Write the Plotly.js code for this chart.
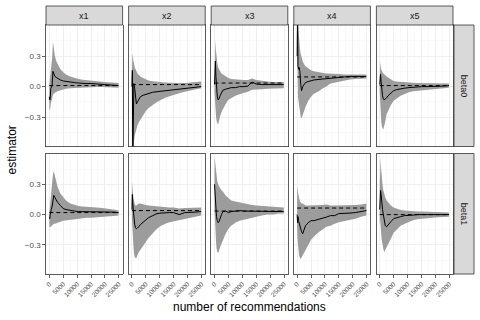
<!DOCTYPE html>
<html>
<head>
<meta charset="utf-8">
<script src="https://cdn.plot.ly/plotly-3.0.1.min.js"></script>
<style>
  html, body { margin: 0; padding: 0; background: #fff; }
  #chart { width: 480px; height: 320px; }
</style>
</head>
<body>
<div id="chart"></div>
<script>
// Running estimates vs number of recommendations, facet grid (param x covariate)

const recs = [0, 150, 300, 500, 700, 1000, 1300, 1600, 2000, 2500, 3000, 4000, 5000,
              6000, 7500, 9000, 10500, 12000, 13500, 15000, 17000, 19000, 21000, 23000, 24900];

const covariates = ['x1', 'x2', 'x3', 'x4', 'x5'];
const params = ['beta0', 'beta1'];

const xTicks = [0, 5000, 10000, 15000, 20000, 25000];
const xTickText = ['0', '5000', '10000', '15000', '20000', '25000'];
const xMinor = [2500, 7500, 12500, 17500, 22500];
const yTicks = [-0.3, 0, 0.3];
const yTickText = ['\u22120.3', '0.0', '0.3'];
const yMinor = [-0.45, -0.15, 0.15, 0.45];

// true values (dashed lines)
const truthBeta0 = [0.01, 0.02, 0.035, 0.095, 0.01];
const truthBeta1 = [0.02, 0.04, 0.035, 0.065, 0.0];

// beta0
const estB0x1 = [-0.10, -0.13, -0.12, -0.02, 0.00, 0.01, 0.15, 0.12, 0.10, 0.09, 0.08, 0.065, 0.055, 0.05, 0.045, 0.04, 0.035, 0.03, 0.03, 0.03, 0.025, 0.02, 0.02, 0.015, 0.01];
const hiB0x1  = [0.02, 0.06, 0.08, 0.12, 0.18, 0.28, 0.44, 0.36, 0.30, 0.25, 0.22, 0.17, 0.14, 0.12, 0.10, 0.085, 0.075, 0.068, 0.062, 0.057, 0.052, 0.047, 0.043, 0.04, 0.035];
const loB0x1  = [-0.20, -0.24, -0.22, -0.17, -0.14, -0.12, -0.08, -0.07, -0.06, -0.05, -0.045, -0.035, -0.025, -0.02, -0.015, -0.012, -0.01, -0.008, -0.006, -0.005, -0.004, -0.003, -0.004, -0.006, -0.01];

const estB0x2 = [0.00, 0.16, -0.75, 0.02, 0.03, -0.02, -0.12, -0.17, -0.15, -0.12, -0.10, -0.085, -0.075, -0.065, -0.055, -0.05, -0.045, -0.04, -0.04, -0.035, -0.03, -0.02, -0.015, -0.005, 0.0];
const hiB0x2  = [0.10, 0.33, 0.30, 0.26, 0.22, 0.19, 0.17, 0.15, 0.13, 0.115, 0.10, 0.085, 0.07, 0.06, 0.052, 0.046, 0.042, 0.04, 0.038, 0.036, 0.035, 0.036, 0.04, 0.045, 0.05];
const loB0x2  = [-0.10, -0.30, -0.95, -0.70, -0.55, -0.48, -0.44, -0.42, -0.38, -0.35, -0.32, -0.28, -0.24, -0.21, -0.18, -0.15, -0.13, -0.11, -0.095, -0.08, -0.065, -0.05, -0.035, -0.025, -0.015];

const estB0x3 = [0.02, 0.10, 0.25, 0.10, -0.05, -0.10, -0.13, -0.12, -0.09, -0.06, -0.035, -0.025, -0.02, -0.01, -0.01, 0.0, 0.0, 0.005, 0.045, 0.025, 0.02, 0.02, 0.015, 0.015, 0.02];
const hiB0x3  = [0.05, 0.30, 0.46, 0.36, 0.28, 0.23, 0.19, 0.17, 0.15, 0.13, 0.12, 0.10, 0.085, 0.075, 0.07, 0.065, 0.065, 0.065, 0.08, 0.065, 0.055, 0.05, 0.045, 0.045, 0.045];
const loB0x3  = [-0.05, -0.15, -0.20, -0.28, -0.33, -0.36, -0.37, -0.34, -0.29, -0.25, -0.22, -0.17, -0.13, -0.11, -0.09, -0.075, -0.06, -0.05, -0.03, -0.03, -0.025, -0.02, -0.02, -0.015, -0.015];

const estB0x4 = [0.30, 0.75, 0.20, 0.17, 0.19, 0.15, 0.02, -0.04, 0.0, 0.02, 0.04, 0.05, 0.06, 0.065, 0.07, 0.075, 0.08, 0.085, 0.09, 0.09, 0.095, 0.1, 0.1, 0.1, 0.1];
const hiB0x4  = [0.70, 0.90, 0.70, 0.55, 0.45, 0.38, 0.32, 0.28, 0.25, 0.22, 0.20, 0.18, 0.16, 0.15, 0.14, 0.135, 0.13, 0.13, 0.125, 0.125, 0.12, 0.12, 0.12, 0.12, 0.12];
const loB0x4  = [0.0, 0.40, -0.10, -0.15, -0.20, -0.25, -0.30, -0.31, -0.28, -0.24, -0.20, -0.14, -0.10, -0.07, -0.05, -0.02, 0.0, 0.03, 0.04, 0.05, 0.06, 0.07, 0.075, 0.08, 0.08];

const estB0x5 = [0.02, 0.06, 0.12, 0.05, -0.05, -0.09, -0.12, -0.13, -0.12, -0.11, -0.09, -0.06, -0.04, -0.03, -0.02, -0.015, -0.01, -0.005, 0.0, 0.0, 0.0, 0.0, 0.005, 0.005, 0.01];
const hiB0x5  = [0.08, 0.25, 0.20, 0.17, 0.15, 0.14, 0.13, 0.12, 0.11, 0.10, 0.09, 0.07, 0.055, 0.05, 0.045, 0.04, 0.04, 0.037, 0.035, 0.035, 0.033, 0.032, 0.031, 0.03, 0.03];
const loB0x5  = [-0.05, -0.15, -0.25, -0.33, -0.38, -0.41, -0.42, -0.40, -0.34, -0.27, -0.24, -0.18, -0.14, -0.12, -0.09, -0.07, -0.055, -0.045, -0.04, -0.035, -0.03, -0.025, -0.02, -0.015, -0.01];

// beta1
const estB1x1 = [-0.03, -0.04, 0.00, 0.04, 0.05, 0.08, 0.16, 0.19, 0.17, 0.14, 0.12, 0.09, 0.06, 0.05, 0.04, 0.035, 0.03, 0.03, 0.03, 0.03, 0.03, 0.03, 0.025, 0.025, 0.02];
const hiB1x1  = [0.02, 0.06, 0.12, 0.20, 0.26, 0.33, 0.40, 0.43, 0.38, 0.32, 0.27, 0.21, 0.17, 0.14, 0.11, 0.095, 0.085, 0.08, 0.075, 0.07, 0.07, 0.065, 0.06, 0.05, 0.04];
const loB1x1  = [-0.10, -0.13, -0.13, -0.12, -0.12, -0.11, -0.10, -0.09, -0.09, -0.09, -0.08, -0.07, -0.06, -0.05, -0.045, -0.04, -0.04, -0.035, -0.03, -0.03, -0.03, -0.025, -0.02, -0.015, -0.01];

const estB1x2 = [0.05, 0.20, 0.12, 0.04, -0.05, -0.10, -0.13, -0.14, -0.13, -0.12, -0.10, -0.075, -0.05, -0.03, -0.01, 0.01, 0.015, 0.02, 0.02, 0.02, 0.0, 0.02, 0.02, 0.025, 0.03];
const hiB1x2  = [0.15, 0.33, 0.25, 0.17, 0.12, 0.10, 0.09, 0.09, 0.10, 0.11, 0.11, 0.10, 0.095, 0.09, 0.085, 0.08, 0.075, 0.07, 0.07, 0.07, 0.06, 0.065, 0.065, 0.07, 0.07];
const loB1x2  = [-0.05, -0.10, -0.20, -0.30, -0.38, -0.42, -0.43, -0.43, -0.40, -0.37, -0.34, -0.31, -0.27, -0.23, -0.18, -0.14, -0.11, -0.09, -0.075, -0.06, -0.05, -0.04, -0.03, -0.02, -0.01];

const estB1x3 = [0.30, 0.22, 0.14, 0.05, -0.02, -0.06, -0.08, -0.07, -0.03, 0.0, 0.03, 0.035, 0.02, 0.03, 0.035, 0.04, 0.035, 0.035, 0.03, 0.03, 0.035, 0.03, 0.03, 0.03, 0.03];
const hiB1x3  = [0.55, 0.55, 0.50, 0.44, 0.38, 0.33, 0.30, 0.28, 0.26, 0.24, 0.23, 0.19, 0.16, 0.14, 0.13, 0.12, 0.11, 0.10, 0.095, 0.09, 0.085, 0.08, 0.075, 0.07, 0.07];
const loB1x3  = [0.05, -0.05, -0.15, -0.25, -0.33, -0.37, -0.38, -0.36, -0.32, -0.28, -0.25, -0.19, -0.14, -0.11, -0.08, -0.06, -0.05, -0.04, -0.03, -0.02, -0.01, 0.0, 0.0, 0.01, 0.01];

const estB1x4 = [0.0, -0.08, -0.02, -0.06, -0.08, -0.10, -0.15, -0.17, -0.19, -0.15, -0.11, -0.08, -0.06, -0.06, -0.05, -0.035, -0.025, -0.01, -0.01, 0.01, 0.01, 0.015, 0.02, 0.03, 0.04];
const hiB1x4  = [0.25, 0.27, 0.22, 0.18, 0.15, 0.13, 0.12, 0.11, 0.11, 0.10, 0.09, 0.09, 0.09, 0.09, 0.09, 0.095, 0.10, 0.09, 0.09, 0.09, 0.09, 0.09, 0.095, 0.10, 0.11];
const loB1x4  = [-0.15, -0.25, -0.30, -0.35, -0.40, -0.43, -0.44, -0.43, -0.40, -0.37, -0.35, -0.30, -0.25, -0.22, -0.18, -0.15, -0.12, -0.11, -0.09, -0.075, -0.06, -0.05, -0.04, -0.02, -0.01];

const estB1x5 = [0.05, 0.18, 0.24, 0.20, 0.10, 0.05, 0.0, -0.06, -0.11, -0.12, -0.10, -0.07, -0.04, -0.03, -0.02, -0.01, -0.01, -0.005, 0.0, 0.0, 0.0, 0.0, 0.0, 0.0, 0.0];
const hiB1x5  = [0.30, 0.50, 0.56, 0.45, 0.37, 0.30, 0.24, 0.20, 0.17, 0.14, 0.12, 0.09, 0.07, 0.06, 0.045, 0.04, 0.035, 0.033, 0.03, 0.03, 0.028, 0.025, 0.022, 0.02, 0.02];
const loB1x5  = [-0.10, -0.05, -0.10, -0.18, -0.25, -0.30, -0.34, -0.37, -0.36, -0.33, -0.30, -0.24, -0.18, -0.15, -0.11, -0.09, -0.07, -0.055, -0.045, -0.04, -0.035, -0.03, -0.025, -0.02, -0.02];

const panels = [
  [[estB0x1, loB0x1, hiB0x1], [estB0x2, loB0x2, hiB0x2], [estB0x3, loB0x3, hiB0x3], [estB0x4, loB0x4, hiB0x4], [estB0x5, loB0x5, hiB0x5]],
  [[estB1x1, loB1x1, hiB1x1], [estB1x2, loB1x2, hiB1x2], [estB1x3, loB1x3, hiB1x3], [estB1x4, loB1x4, hiB1x4], [estB1x5, loB1x5, hiB1x5]]
];
const truths = [truthBeta0, truthBeta1];

// geometry in pixels (480 x 320 page)
const W = 480, H = 320;
const colLeft = [46, 128.6, 211.2, 293.8, 376.4];
const panelW = 76.6;
const rowTop = [25, 153.5];
const rowBot = [146.5, 274];
const FONT = 'Liberation Sans, Arial, sans-serif';

const traces = [];
const layout = {
  width: W, height: H,
  margin: { l: 0, r: 0, t: 0, b: 0 },
  paper_bgcolor: '#fff',
  plot_bgcolor: '#fff',
  showlegend: false,
  font: { family: FONT, color: '#1a1a1a' },
  shapes: [],
  annotations: []
};

params.forEach((p, r) => {
  covariates.forEach((cv, c) => {
    const idx = r * 5 + c + 1;
    const xa = 'x' + (idx === 1 ? '' : idx);
    const ya = 'y' + (idx === 1 ? '' : idx);
    const [est, lo, hi] = panels[r][c];

    // confidence ribbon
    traces.push({
      x: recs.concat(recs.slice().reverse()),
      y: hi.concat(lo.slice().reverse()),
      xaxis: xa, yaxis: ya,
      type: 'scatter', mode: 'lines',
      fill: 'toself', fillcolor: '#9c9c9c',
      line: { width: 0 },
      hoverinfo: 'skip'
    });
    // true value
    traces.push({
      x: [recs[0], recs[recs.length - 1]],
      y: [truths[r][c], truths[r][c]],
      xaxis: xa, yaxis: ya,
      type: 'scatter', mode: 'lines',
      line: { color: '#000', width: 1, dash: '4px,3px' }
    });
    // estimator
    traces.push({
      x: recs, y: est,
      xaxis: xa, yaxis: ya,
      type: 'scatter', mode: 'lines',
      line: { color: '#000', width: 1 }
    });

    const bottom = r === 1;
    const left = c === 0;
    layout['xaxis' + (idx === 1 ? '' : idx)] = {
      domain: [colLeft[c] / W, (colLeft[c] + panelW) / W],
      anchor: ya,
      range: [-1200, 26350],
      tickvals: xTicks, ticktext: xTickText,
      ticks: bottom ? 'outside' : '', ticklen: 3, tickwidth: 0.8, tickcolor: '#333',
      showticklabels: bottom, tickangle: -45,
      tickfont: { size: 6.5, color: '#4d4d4d', family: FONT },
      showgrid: true, gridcolor: '#ebebeb', gridwidth: 0.8,
      minor: { tickvals: xMinor, showgrid: true, gridcolor: '#f3f3f3', gridwidth: 0.5 },
      zeroline: false,
      showline: true, mirror: true, linecolor: '#333', linewidth: 0.8
    };
    layout['yaxis' + (idx === 1 ? '' : idx)] = {
      domain: [1 - rowBot[r] / H, 1 - rowTop[r] / H],
      anchor: xa,
      range: [-0.588, 0.605],
      tickvals: yTicks, ticktext: yTickText,
      ticks: left ? 'outside' : '', ticklen: 3, tickwidth: 0.8, tickcolor: '#333',
      showticklabels: left,
      tickfont: { size: 8, color: '#4d4d4d', family: FONT },
      showgrid: true, gridcolor: '#ebebeb', gridwidth: 0.8,
      minor: { tickvals: yMinor, showgrid: true, gridcolor: '#f3f3f3', gridwidth: 0.5 },
      zeroline: false,
      showline: true, mirror: true, linecolor: '#333', linewidth: 0.8
    };
  });
});

// column strips
covariates.forEach((cv, c) => {
  layout.shapes.push({
    type: 'rect', xref: 'paper', yref: 'paper',
    x0: colLeft[c] / W, x1: (colLeft[c] + panelW) / W,
    y0: 1 - rowTop[0] / H, y1: 1 - 6 / H,
    fillcolor: '#d9d9d9', line: { color: '#333', width: 0.8 }
  });
  layout.annotations.push({
    xref: 'paper', yref: 'paper', xanchor: 'center', yanchor: 'middle',
    x: (colLeft[c] + panelW / 2) / W, y: 1 - 15.5 / H,
    text: cv, showarrow: false,
    font: { size: 9, color: '#1a1a1a', family: FONT }
  });
});

// row strips
params.forEach((p, r) => {
  layout.shapes.push({
    type: 'rect', xref: 'paper', yref: 'paper',
    x0: 454 / W, x1: 474 / W,
    y0: 1 - rowBot[r] / H, y1: 1 - rowTop[r] / H,
    fillcolor: '#d9d9d9', line: { color: '#333', width: 0.8 }
  });
  layout.annotations.push({
    xref: 'paper', yref: 'paper', xanchor: 'center', yanchor: 'middle',
    x: 464 / W, y: 1 - (rowTop[r] + rowBot[r]) / 2 / H,
    text: p, showarrow: false, textangle: 90,
    font: { size: 9, color: '#1a1a1a', family: FONT }
  });
});

// axis titles
layout.annotations.push({
  xref: 'paper', yref: 'paper', xanchor: 'center', yanchor: 'middle',
  x: 249.5 / W, y: 1 - 306.5 / H,
  text: 'number of recommendations', showarrow: false,
  font: { size: 12, color: '#000', family: FONT }
});
layout.annotations.push({
  xref: 'paper', yref: 'paper', xanchor: 'center', yanchor: 'middle',
  x: 11.5 / W, y: 1 - 150 / H,
  text: 'estimator', showarrow: false, textangle: -90,
  font: { size: 12, color: '#000', family: FONT }
});

Plotly.newPlot('chart', traces, layout, { staticPlot: true, displayModeBar: false });
</script>
</body>
</html>
